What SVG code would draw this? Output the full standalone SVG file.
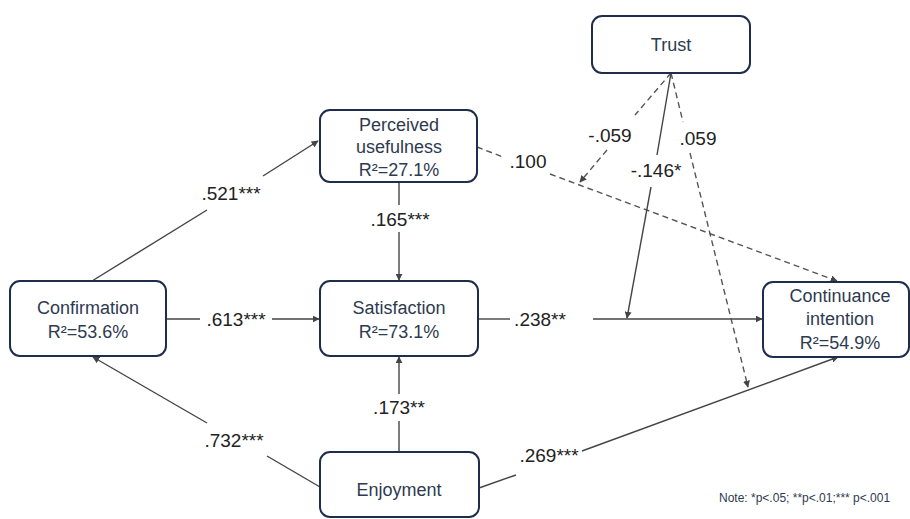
<svg xmlns="http://www.w3.org/2000/svg" width="910" height="519" viewBox="0 0 910 519">
<style>
.box{fill:#fff;stroke:#1f2d4d;stroke-width:2}
.bt{font-family:"Liberation Sans",Arial,sans-serif;font-size:18px;fill:#2e3a50;text-anchor:middle}
.lb{font-family:"Liberation Sans",Arial,sans-serif;font-size:19px;fill:#222;text-anchor:middle}
.ln{stroke:#444;stroke-width:1.4;fill:none}
.ds{stroke:#555;stroke-width:1.4;fill:none;stroke-dasharray:6 4}
.note{font-family:"Liberation Sans",Arial,sans-serif;font-size:12px;fill:#2e3a50}
</style>
<defs>
<marker id="ah" viewBox="0 0 10 10" refX="9" refY="5" markerWidth="7" markerHeight="7" markerUnits="userSpaceOnUse" orient="auto">
<path d="M0,0 L10,5 L0,10 z" fill="#444"/>
</marker>
</defs>
<rect width="910" height="519" fill="#fff"/>
<g id="connectors">
<line class="ln" x1="92" y1="281" x2="207" y2="210"/>
<line class="ln" x1="263" y1="176" x2="318" y2="141" marker-end="url(#ah)"/>
<text class="lb" x="231" y="200">.521***</text>
<line class="ln" x1="166" y1="319" x2="200" y2="319"/>
<line class="ln" x1="272" y1="319" x2="319" y2="319" marker-end="url(#ah)"/>
<text class="lb" x="236" y="326">.613***</text>
<line class="ln" x1="320" y1="487" x2="267" y2="456"/>
<line class="ln" x1="207" y1="423" x2="93" y2="357" marker-end="url(#ah)"/>
<text class="lb" x="234" y="447">.732***</text>
<line class="ln" x1="399" y1="182" x2="399" y2="205"/>
<line class="ln" x1="399" y1="232" x2="399" y2="280" marker-end="url(#ah)"/>
<text class="lb" x="400" y="226">.165***</text>
<line class="ln" x1="399" y1="452" x2="399" y2="421"/>
<line class="ln" x1="399" y1="394" x2="399" y2="357" marker-end="url(#ah)"/>
<text class="lb" x="399" y="414">.173**</text>
<line class="ln" x1="478" y1="319" x2="510" y2="319"/>
<line class="ln" x1="593" y1="319" x2="762" y2="319" marker-end="url(#ah)"/>
<text class="lb" x="540" y="326">.238**</text>
<line class="ln" x1="479" y1="488" x2="516" y2="475"/>
<line class="ln" x1="582" y1="451" x2="838" y2="357" marker-end="url(#ah)"/>
<text class="lb" x="549" y="462">.269***</text>
<line class="ds" x1="477" y1="147" x2="503" y2="157"/>
<line class="ds" x1="550" y1="174" x2="837" y2="281" marker-end="url(#ah)"/>
<text class="lb" x="528" y="168">.100</text>
<line class="ds" x1="671" y1="73" x2="635" y2="115"/>
<line class="ds" x1="607" y1="150" x2="580" y2="182" marker-end="url(#ah)"/>
<text class="lb" x="610" y="142">-.059</text>
<line class="ln" x1="671" y1="73" x2="657" y2="155"/>
<line class="ln" x1="651" y1="187" x2="627" y2="318" marker-end="url(#ah)"/>
<text class="lb" x="656" y="177">-.146*</text>
<line class="ds" x1="671" y1="73" x2="683" y2="122"/>
<line class="ds" x1="690" y1="153" x2="748" y2="387" marker-end="url(#ah)"/>
<text class="lb" x="698" y="145">.059</text>
</g>
<g id="trust">
<rect class="box" x="592" y="16" width="158" height="57" rx="10"/>
<text class="bt" x="671" y="51">Trust</text>
</g>
<g id="pu">
<rect class="box" x="320" y="110" width="157" height="72" rx="10"/>
<text class="bt" x="399" y="131">Perceived</text>
<text class="bt" x="399" y="153">usefulness</text>
<text class="bt" x="399" y="176">R²=27.1%</text>
</g>
<g id="confirmation">
<rect class="box" x="10" y="281" width="156" height="75" rx="10"/>
<text class="bt" x="88" y="314">Confirmation</text>
<text class="bt" x="88" y="338">R²=53.6%</text>
</g>
<g id="satisfaction">
<rect class="box" x="320" y="281" width="158" height="75" rx="10"/>
<text class="bt" x="399" y="314">Satisfaction</text>
<text class="bt" x="399" y="338">R²=73.1%</text>
</g>
<g id="ci">
<rect class="box" x="763" y="282" width="146" height="75" rx="10"/>
<text class="bt" x="840" y="302">Continuance</text>
<text class="bt" x="840" y="325">intention</text>
<text class="bt" x="840" y="349">R²=54.9%</text>
</g>
<g id="enjoyment">
<rect class="box" x="320" y="452" width="159" height="65" rx="10"/>
<text class="bt" x="399" y="496">Enjoyment</text>
</g>
<text class="note" x="719" y="502">Note: *p&lt;.05; **p&lt;.01;*** p&lt;.001</text>
</svg>
